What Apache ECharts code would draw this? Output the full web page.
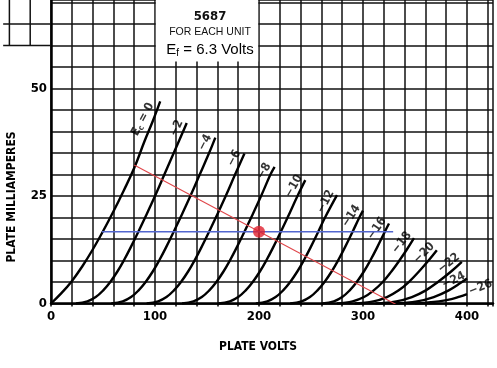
<!DOCTYPE html>
<html><head><meta charset="utf-8">
<script src="https://cdn.jsdelivr.net/npm/echarts@6/dist/echarts.min.js"></script>
<style>html,body{margin:0;padding:0;background:#fff}#c{width:497px;height:368px}</style>
</head><body><div id="c"></div>
<script>
// ---- data (plate volts, plate mA) ----
const curveEc0  = [[0,0],[10,2.4],[20,5.2],[30,8.6],[40,12.5],[50,16.8],[60,21.4],[70,26.3],[80,31.5],[90,37.8],[98,42.5],[105,47]];
const curveEc2  = [[24,0],[35,0.5],[43,1.5],[50,3],[57,5],[64,7.5],[70,10],[76.5,13],[84,16.7],[90.5,20],[100,25],[109,30],[118,35],[127,40],[130.5,42]];
const curveEc4  = [[58,0],[69,0.5],[77,1.5],[84,3],[91,5],[98,7.5],[104,10],[110.5,13],[118,16.7],[124.5,20],[134,25],[143,30],[152,35],[158,38.6]];
const curveEc6  = [[92,0],[103,0.5],[111,1.5],[118,3],[125,5],[132,7.5],[138,10],[144.5,13],[152,16.7],[158.5,20],[168,25],[177,30],[186,34.9]];
const curveEc8  = [[126,0],[137,0.5],[145,1.5],[152,3],[159,5],[166,7.5],[172,10],[178.5,13],[186,16.7],[192.5,20],[202,25],[211,30],[215,31.8]];
const curveEc10 = [[161,0],[172,0.5],[180,1.5],[187,3],[194,5],[201,7.5],[207,10],[213.5,13],[221,16.7],[227.5,20],[237,25],[244.5,28.7]];
const curveEc12 = [[197,0],[208,0.5],[216,1.5],[223,3],[230,5],[237,7.5],[243,10],[249.5,13],[257,16.7],[263.5,20],[275,25.2]];
const curveEc14 = [[230,0],[241,0.5],[249,1.5],[256,3],[263,5],[270,7.5],[276,10],[282.5,13],[290,16.7],[296.5,20],[300,21.6]];
const curveEc16 = [[261,0],[272,0.5],[280,1.5],[287,3],[294,5],[301,7.5],[307,10],[313.5,13],[321,16.7],[325,18.6]];
const curveEc18 = [[275,0],[290,0.5],[301,1.5],[310,3],[319,5],[327.5,7.5],[335,10],[342,12.5],[349,15.2]];
const curveEc20 = [[292,0],[310,0.5],[323,1.5],[334,3],[344,5],[354,7.5],[363,10],[371,12.4]];
const curveEc22 = [[312,0],[332,0.5],[347,1.5],[360,3],[372,5],[385,7.5],[395,9.7]];
const curveEc24 = [[330,0],[352,0.5],[368,1.5],[382,3],[394,4.8],[400,5.8]];
const curveEc26 = [[350,0],[373,0.5],[385,1],[393,1.6],[400,2.2]];
const curveLabels = ['Ec = 0','\u22122','\u22124','\u22126','\u22128','\u221210','\u221212','\u221214','\u221216','\u221218','\u221220','\u221222','\u221224','\u221226'];
const loadLine = [[80,32.2],[337,-0.9]];
const biasLine = [[49,16.7],[329,16.7]];
const operatingPoint = [[200,16.7]];
const xTickLabels = [0,100,200,300,400];
const yTickLabels = [0,25,50];
const extraGridX = [-40,-20];
const extraGridY = [60,65];
const titleBox = [[100.8,56.3],[199.2,72]];

// ---- styles ----
const curves = [curveEc0,curveEc2,curveEc4,curveEc6,curveEc8,curveEc10,curveEc12,curveEc14,curveEc16,curveEc18,curveEc20,curveEc22,curveEc24,curveEc26];
const labelRotate = [62,65,63,62,60,60,62,57,55,52,45,38,25,22];
const labelOffset = [[-24,-7],[-9,-7],[-9,-7],[-9,-7],[-9,-7],[-11,-7],[-11,-7],[-11,-7],[-11,-7],[-11,-7],[-11,-7],[-11,-7],[-13,-4],[15,-1]];
const FONT = "'Liberation Sans Narrow','DejaVu Sans Condensed','Liberation Sans',sans-serif";

const series = [];
curves.forEach((c) => {
  series.push({type:'line', data:c, showSymbol:false, smooth:0.4,
    lineStyle:{color:'#000', width:2.4}, z:3, silent:true});
});
series.push({type:'scatter', symbolSize:1, itemStyle:{color:'transparent'}, z:4, silent:true,
  data: curves.map((c,i)=>({value:c[c.length-1],
    label:{show:true, position:'inside', formatter: i===0 ? '{e|E}{s|c}{e| = 0}' : curveLabels[i],
      rotate:labelRotate[i], offset:labelOffset[i], color:'#000',
      fontFamily:FONT, fontWeight:'bold', fontSize:12,
      rich:{e:{fontSize:12,fontWeight:'bold',fontFamily:FONT,color:'#000'}, s:{fontSize:8,fontWeight:'bold',fontFamily:FONT,color:'#000',padding:[6,0,0,0]}}}}))
});
series.push({type:'line', data:loadLine, showSymbol:false, lineStyle:{color:'#e0464a', width:1.1}, z:5, silent:true});
series.push({type:'line', data:biasLine, showSymbol:false, lineStyle:{color:'#5266cf', width:1.5}, z:5, silent:true,
  markArea:{silent:true, itemStyle:{color:'#fff', borderWidth:0}, data:[[{coord:titleBox[0]},{coord:titleBox[1]}]]}});
series.push({type:'scatter', data:operatingPoint, symbolSize:12, itemStyle:{color:'#e0202e'}, z:6, silent:true});

const chart = echarts.init(document.getElementById('c'), null, {renderer:'canvas'});
const texts = [
  {type:'text', z:100, x:210, y:17, style:{text:'5687', fill:'#111', font:"bold 13px "+FONT, align:'center', verticalAlign:'middle'}},
  {type:'text', z:100, x:210, y:32, style:{text:'FOR EACH UNIT', fill:'#111', font:"10.5px 'Liberation Sans',sans-serif", align:'center', verticalAlign:'middle'}},
  {type:'text', z:100, x:210, y:50, style:{text:'{e|E}{s|f}{e| = 6.3 Volts}', align:'center', verticalAlign:'middle',
    rich:{e:{fontSize:15, fontFamily:"'Liberation Sans',sans-serif", color:'#111'}, s:{fontSize:10, fontFamily:"'Liberation Sans',sans-serif", color:'#111', padding:[7,0,0,0]}}}},
  {type:'text', z:100, x:258, y:347, style:{text:'PLATE VOLTS', fill:'#000', font:"bold 12px "+FONT, align:'center', verticalAlign:'middle'}},
  {type:'text', z:100, x:12, y:197, rotation:Math.PI/2, style:{text:'PLATE MILLIAMPERES', fill:'#000', font:"bold 12px "+FONT, align:'center', verticalAlign:'middle'}}
];
chart.setOption({
  animation:false,
  backgroundColor:'#fff',
  grid:{left:51, right:4, top:0, bottom:64.5},
  xAxis:{type:'value', min:0, max:425, interval:20,
    axisLine:{show:true, lineStyle:{color:'#000', width:2.5}},
    axisTick:{show:true, length:3, lineStyle:{color:'#000', width:1.5}},
    splitLine:{show:true, lineStyle:{color:'#111', width:1.5}},
    axisLabel:{margin:7, color:'#000', fontFamily:FONT, fontWeight:'bold', fontSize:13,
      formatter:v=> xTickLabels.includes(v) ? String(v) : ''}},
  yAxis:{type:'value', min:0, max:70.6, interval:5,
    axisLine:{show:true, lineStyle:{color:'#000', width:2.5}},
    axisTick:{show:false},
    splitLine:{show:true, lineStyle:{color:'#111', width:1.5}},
    axisLabel:{margin:4, color:'#000', fontFamily:FONT, fontWeight:'bold', fontSize:13,
      formatter:v=> yTickLabels.includes(v) ? String(v) : ''}},
  graphic:texts,
  series:series
});
// extra grid segments left of the axis (top-left corner of the sheet), placed through the chart's own scales
const ext = [];
extraGridX.forEach(v=>{
  const p1 = chart.convertToPixel({gridIndex:0},[v,extraGridY[0]]);
  const p2 = chart.convertToPixel({gridIndex:0},[v,70.6]);
  ext.push({type:'line', z:100, shape:{x1:p1[0],y1:p1[1],x2:p2[0],y2:p2[1]}, style:{stroke:'#111', lineWidth:1.5}});
});
extraGridY.forEach(v=>{
  const p1 = chart.convertToPixel({gridIndex:0},[-46,v]);
  const p2 = chart.convertToPixel({gridIndex:0},[0,v]);
  ext.push({type:'line', z:100, shape:{x1:p1[0],y1:p1[1],x2:p2[0],y2:p2[1]}, style:{stroke:'#111', lineWidth:1.5}});
});
chart.setOption({graphic:texts.concat(ext)});
</script></body></html>
